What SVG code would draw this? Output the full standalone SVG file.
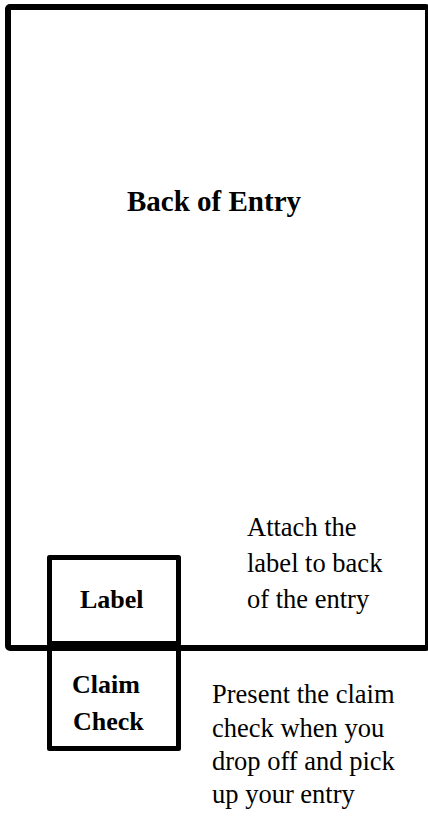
<svg xmlns="http://www.w3.org/2000/svg" width="428" height="817" viewBox="0 0 428 817">
<style>
.box{fill:none;stroke:#000;stroke-width:5;stroke-linejoin:round}
.b{font-family:"Liberation Serif","Times New Roman",serif;font-weight:bold;font-size:26px;fill:#000}
.r{font-family:"Liberation Serif","Times New Roman",serif;font-size:26.5px;fill:#000}
</style>
<rect width="428" height="817" fill="#fff"/>
<g id="entry">
<rect x="8" y="7" width="420" height="641" rx="2" fill="none" stroke="#000" stroke-width="6" stroke-linejoin="round"/>
<text class="b" x="214" y="211" text-anchor="middle" style="font-size:29px">Back of Entry</text>
</g>
<g id="label">
<rect class="box" x="49.5" y="557.5" width="129" height="86"/>
<text class="b" x="80" y="608">Label</text>
</g>
<g id="claim">
<rect class="box" x="49.5" y="646" width="129" height="102.5"/>
<text class="b" x="72" y="693">Claim</text>
<text class="b" x="73" y="730">Check</text>
</g>
<g id="notes">
<text class="r" x="247" y="536">Attach the</text>
<text class="r" x="247" y="572">label to back</text>
<text class="r" x="247" y="608">of the entry</text>
<text class="r" x="212" y="703">Present the claim</text>
<text class="r" x="212" y="737">check when you</text>
<text class="r" x="212" y="770">drop off and pick</text>
<text class="r" x="212" y="803">up your entry</text>
</g>
<g id="connectors"></g>
</svg>
